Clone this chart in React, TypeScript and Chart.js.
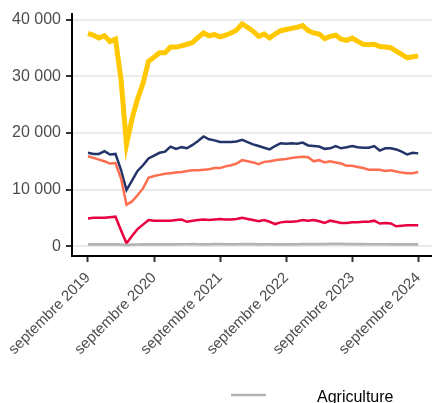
import React, { useEffect, useRef } from 'react';
import { Chart, registerables } from 'chart.js';

Chart.register(...registerables);

// Months since septembre 2019 (0 = Sep 2019, 60 = Sep 2024)
const xTickMonths = [0, 12, 24, 36, 48, 60];
const xTickLabels = [
  'septembre 2019',
  'septembre 2020',
  'septembre 2021',
  'septembre 2022',
  'septembre 2023',
  'septembre 2024',
];
const yTickValues = [0, 10000, 20000, 30000, 40000];
const yTickLabels = ['0', '10 000', '20 000', '30 000', '40 000'];

const seriesNames = ['Agriculture', 'Construction', 'Industrie', 'Commerce', 'Services'];
const seriesColors = ['#B3B3B3', '#E8003F', '#FF6E4E', '#233468', '#FFC800'];
const seriesWidths = [2.7, 2.5, 2.5, 2.5, 5];

const agriculture = [
  300, 300, 300, 300, 300, 320, 280, 200, 250, 280,
  300, 300, 320, 320, 300, 300, 320, 330, 330, 340,
  330, 320, 330, 350, 340, 330, 320, 330, 350, 360,
  340, 320, 320, 330, 320, 310, 310, 320, 330, 340,
  340, 350, 360, 360, 380, 400, 380, 360, 350, 340,
  340, 330, 330, 330, 330, 320, 320, 310, 310, 320,
  320,
];
const construction = [
  4900, 5000, 5000, 5000, 5100, 5200, 2800, 500, 1800, 3000,
  3800, 4600, 4500, 4500, 4500, 4500, 4600, 4700, 4300, 4500,
  4600, 4700, 4600, 4700, 4800, 4700, 4700, 4800, 5000, 4800,
  4600, 4400, 4600, 4300, 3900, 4200, 4300, 4300, 4400, 4600,
  4500, 4600, 4400, 4100, 4500, 4300, 4100, 4100, 4200, 4200,
  4300, 4300, 4500, 4000, 4100, 4000, 3500, 3600, 3700, 3700,
  3700,
];
const industrie = [
  15900, 15600, 15300, 15000, 14600, 14700, 12000, 7300, 7900, 9000,
  10200, 12100, 12400, 12600, 12800, 12900, 13000, 13100, 13300, 13400,
  13400, 13500, 13600, 13800, 13800, 14100, 14300, 14600, 15200, 15000,
  14800, 14500, 14900, 15000, 15200, 15300, 15400, 15600, 15700, 15800,
  15700, 15000, 15200, 14800, 15000, 14800, 14600, 14200, 14200, 14000,
  13800, 13500, 13500, 13500, 13300, 13400, 13200, 13000, 12900, 12900,
  13100,
];
const commerce = [
  16500, 16300, 16300, 16800, 16200, 16300, 13500, 9900, 11600, 13300,
  14300, 15500, 16000, 16500, 16700, 17600, 17200, 17500, 17300, 17900,
  18600, 19400, 18900, 18700, 18400, 18400, 18400, 18500, 18800, 18400,
  18000, 17700, 17400, 17100, 17700, 18200, 18100, 18200, 18100, 18300,
  17800, 17700, 17600, 17200, 17300, 17700, 17300, 17500, 17700, 17500,
  17400, 17400, 17700, 16900, 17300, 17300, 17100, 16700, 16200, 16500,
  16400,
];
const services = [
  37600, 37300, 36800, 37200, 36200, 36600, 29500, 18000, 22500, 26000,
  28800, 32700, 33400, 34200, 34200, 35200, 35200, 35400, 35700, 36000,
  36900, 37700, 37200, 37400, 37000, 37300, 37700, 38200, 39300, 38700,
  38000, 37100, 37500, 36800, 37500, 38100, 38300, 38500, 38700, 39000,
  38100, 37700, 37500, 36700, 37100, 37300, 36600, 36400, 36800, 36200,
  35700, 35600, 35700, 35300, 35200, 35100, 34500, 33900, 33300, 33500,
  33600,
];

const allSeries = [agriculture, construction, industrie, commerce, services];

const FONT = '"Liberation Sans", Arial, sans-serif';

const bottomLegend = {
  id: 'bottomLegend',
  afterDraw(chart: any) {
    const ctx = chart.ctx;
    const baseY = chart.chartArea.bottom + 139;
    ctx.save();
    seriesNames.forEach((name, i) => {
      const y = baseY + i * 24;
      ctx.strokeStyle = seriesColors[i];
      ctx.lineWidth = seriesWidths[i];
      ctx.beginPath();
      ctx.moveTo(231, y);
      ctx.lineTo(266, y);
      ctx.stroke();
      ctx.fillStyle = '#000000';
      ctx.font = '16px ' + FONT;
      ctx.textAlign = 'left';
      ctx.textBaseline = 'alphabetic';
      ctx.fillText(name, 317, y + 6.5);
    });
    ctx.restore();
  },
};

export default function App() {
  const ref = useRef<HTMLCanvasElement | null>(null);

  useEffect(() => {
    if (!ref.current) return;
    const chart = new Chart(ref.current, {
      type: 'line',
      data: {
        datasets: allSeries.map((values, s) => ({
          label: seriesNames[s],
          data: values.map((v, i) => ({ x: i, y: v })),
          borderColor: seriesColors[s],
          backgroundColor: seriesColors[s],
          borderWidth: seriesWidths[s],
          pointRadius: 0,
          tension: 0,
          fill: false,
        })),
      },
      options: {
        animation: false,
        responsive: false,
        layout: { padding: { top: 14, left: 0, right: 0, bottom: 0 } },
        plugins: {
          legend: { display: false },
          tooltip: { enabled: false },
        },
        scales: {
          x: {
            type: 'linear',
            min: -2.9,
            max: 62.5,
            afterBuildTicks: (axis: any) => {
              axis.ticks = xTickMonths.map((v) => ({ value: v }));
            },
            afterFit: (axis: any) => {
              axis.height = 147;
              axis.paddingLeft = 0;
              axis.paddingRight = 0;
            },
            ticks: {
              autoSkip: false,
              minRotation: 45,
              maxRotation: 45,
              padding: 7,
              color: '#4D4D4D',
              font: { size: 15, family: FONT },
              callback: (_v: any, index: number) => xTickLabels[index],
            },
            grid: {
              drawOnChartArea: false,
              drawTicks: true,
              tickLength: 6,
              tickWidth: 2,
              tickColor: '#333333',
            },
            border: { color: '#000000', width: 2 },
          },
          y: {
            type: 'linear',
            min: -1750,
            max: 41050,
            afterBuildTicks: (axis: any) => {
              axis.ticks = yTickValues.map((v) => ({ value: v }));
            },
            afterFit: (axis: any) => {
              axis.width = 72;
              axis.paddingTop = 0;
              axis.paddingBottom = 0;
            },
            ticks: {
              padding: 5,
              color: '#4D4D4D',
              font: { size: 16, family: FONT },
              callback: (_v: any, index: number) => yTickLabels[index],
            },
            grid: {
              color: '#EBEBEB',
              lineWidth: 2,
              drawTicks: true,
              tickLength: 6,
              tickWidth: 2,
              tickColor: '#333333',
            },
            border: { color: '#000000', width: 2 },
          },
        },
      },
      plugins: [bottomLegend],
    });
    return () => chart.destroy();
  }, []);

  return (
    <div
      style={{
        position: 'absolute',
        left: 0,
        top: 0,
        width: 432,
        height: 403,
        overflow: 'hidden',
        background: '#ffffff',
      }}
    >
      <canvas ref={ref} width={432} height={403} style={{ display: 'block' }} />
    </div>
  );
}
